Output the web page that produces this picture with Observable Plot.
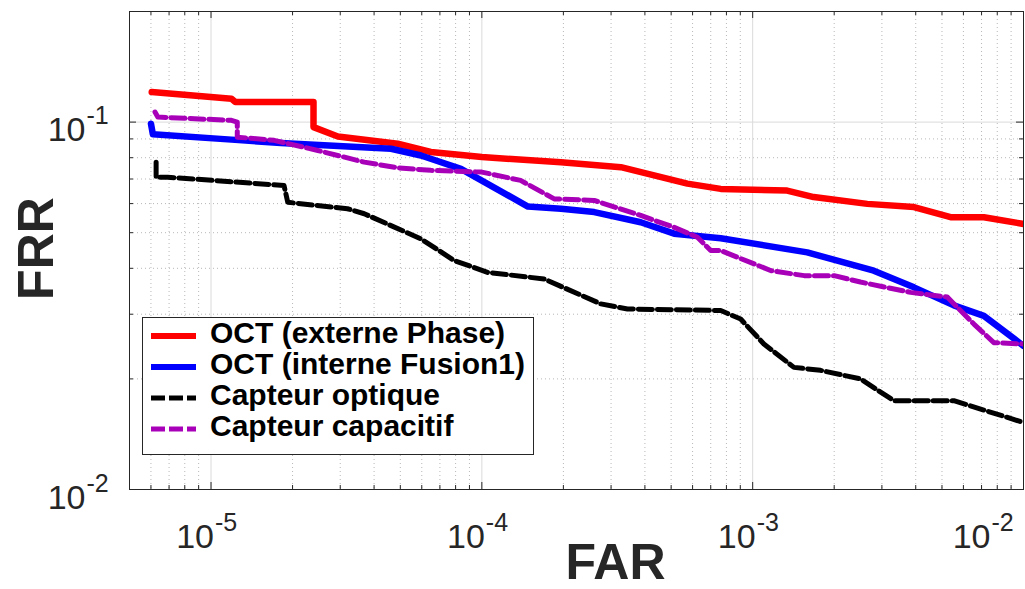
<!DOCTYPE html>
<html>
<head>
<meta charset="utf-8">
<script src="https://cdn.jsdelivr.net/npm/d3@7"></script>
<script src="https://cdn.jsdelivr.net/npm/@observablehq/plot@0.6"></script>
<style>
  html, body { margin: 0; padding: 0; background: #fff; }
  #wrap { position: relative; width: 1025px; height: 589px; overflow: hidden; }
  #legend { position: absolute; left: 142px; top: 317px; }
</style>
</head>
<body>
<div id="wrap"></div>
<script>
// ---- Data ----
const seriesNames = ["OCT (externe Phase)", "OCT (interne Fusion1)", "Capteur optique", "Capteur capacitif"];
const seriesColors = ["#ff0000", "#0000ff", "#000000", "#a800b8"];

const farExterne = [6.04e-6, 1.19e-5, 1.23e-5, 2.39e-5, 2.39e-5, 2.94e-5, 4.89e-5, 6.48e-5, 1.0e-4, 1.96e-4, 3.26e-4, 5.74e-4, 7.62e-4, 1.34e-3, 1.68e-3, 2.65e-3, 3.94e-3, 5.38e-3, 7.14e-3, 1.0e-2];
const frrExterne = [0.1207, 0.1158, 0.1134, 0.1134, 0.0969, 0.0914, 0.0873, 0.0829, 0.0803, 0.0778, 0.0754, 0.0680, 0.0658, 0.0651, 0.0625, 0.0599, 0.0587, 0.0551, 0.0551, 0.0528];

const farInterne = [6.0e-6, 6.1e-6, 1.19e-5, 1.81e-5, 4.62e-5, 5.96e-5, 8.37e-5, 1.48e-4, 1.96e-4, 2.60e-4, 3.86e-4, 5.13e-4, 7.62e-4, 1.59e-3, 2.80e-3, 3.94e-3, 5.53e-3, 7.14e-3, 1.0e-2];
const frrInterne = [0.0990, 0.0926, 0.0896, 0.0877, 0.0846, 0.0811, 0.0746, 0.0589, 0.0581, 0.0569, 0.0534, 0.0497, 0.0483, 0.0442, 0.0394, 0.0355, 0.0317, 0.0297, 0.0246];

const farOptique = [6.27e-6, 6.27e-6, 6.92e-6, 1.86e-5, 1.92e-5, 3.19e-5, 3.68e-5, 5.96e-5, 7.9e-5, 1.05e-4, 1.70e-4, 2.75e-4, 3.45e-4, 7.62e-4, 9.03e-4, 1.10e-3, 1.42e-3, 1.78e-3, 2.50e-3, 3.32e-3, 5.53e-3, 1.0e-2];
const frrOptique = [0.0778, 0.0708, 0.0708, 0.0672, 0.0605, 0.0581, 0.0563, 0.0481, 0.0420, 0.0390, 0.0374, 0.0320, 0.0310, 0.0307, 0.0291, 0.0249, 0.0215, 0.0211, 0.0200, 0.01745, 0.01745, 0.01522];

const farCapacitif = [6.21e-6, 6.36e-6, 1.19e-5, 1.25e-5, 1.25e-5, 1.71e-5, 2.48e-5, 3.68e-5, 4.89e-5, 6.48e-5, 1.0e-4, 1.39e-4, 1.85e-4, 2.60e-4, 3.86e-4, 5.13e-4, 6.25e-4, 7.0e-4, 7.62e-4, 1.17e-3, 1.55e-3, 2.0e-3, 2.50e-3, 3.83e-3, 5.23e-3, 6.56e-3, 7.77e-3, 1.0e-2];
const frrCapacitif = [0.1065, 0.1032, 0.1011, 0.1000, 0.0910, 0.0892, 0.0837, 0.0778, 0.0751, 0.0739, 0.0731, 0.0694, 0.0618, 0.0612, 0.0557, 0.0517, 0.0486, 0.0447, 0.0447, 0.0394, 0.0382, 0.0382, 0.0367, 0.0344, 0.0334, 0.0282, 0.0251, 0.0249];

const xDomain = [5e-6, 1e-2];
const yDomain = [0.01, 0.2];
const xMajorTicks = [1e-5, 1e-4, 1e-3, 1e-2];
const yMajorTicks = [0.01, 0.1];
const xMinorTicks = [5e-6, 6e-6, 7e-6, 8e-6, 9e-6, 2e-5, 3e-5, 4e-5, 5e-5, 6e-5, 7e-5, 8e-5, 9e-5, 2e-4, 3e-4, 4e-4, 5e-4, 6e-4, 7e-4, 8e-4, 9e-4, 2e-3, 3e-3, 4e-3, 5e-3, 6e-3, 7e-3, 8e-3, 9e-3];
const yMinorTicks = [0.02, 0.03, 0.04, 0.05, 0.06, 0.07, 0.08, 0.09, 0.2];
const xTickExponents = ["-5", "-4", "-3", "-2"];
const yTickExponents = ["-2", "-1"];
const xLabel = "FAR";
const yLabel = "FRR";

// ---- Build tables ----
const zip = (fa, fr, name) => fa.map((f, i) => ({far: f, frr: fr[i], name}));
const dExt = zip(farExterne, frrExterne, seriesNames[0]);
const dInt = zip(farInterne, frrInterne, seriesNames[1]);
const dOpt = zip(farOptique, frrOptique, seriesNames[2]);
const dCap = zip(farCapacitif, frrCapacitif, seriesNames[3]);

const W = 1025, H = 589;
const mL = 129, mR = 2, mT = 11, mB = 100;
const plotW = W - mL - mR, plotH = H - mT - mB;
const majLen = 7, minLen = 4;
const axisColor = "#262626";

const xTicksMain = xMajorTicks.slice(0, 3).map((v, i) => ({v, e: xTickExponents[i]}));
const xTicksLast = [{v: xMajorTicks[3], e: xTickExponents[3]}];
const yTicks = yMajorTicks.map((v, i) => ({v, e: yTickExponents[i]}));

const tickFont = 34, expFont = 25;

const chart = Plot.plot({
  width: W, height: H,
  marginLeft: mL, marginRight: mR, marginTop: mT, marginBottom: mB,
  x: {type: "log", domain: xDomain, axis: null},
  y: {type: "log", domain: yDomain, axis: null},
  style: {fontFamily: "'Liberation Sans', Arial, Helvetica, sans-serif", background: "#fff", overflow: "visible"},
  marks: [
    // minor grid (dotted)
    Plot.ruleX(xMinorTicks, {x: d => d, stroke: "#b8b8b8", strokeWidth: 1, strokeDasharray: "1,3"}),
    Plot.ruleY(yMinorTicks, {y: d => d, stroke: "#b8b8b8", strokeWidth: 1, strokeDasharray: "1,3"}),
    // major grid
    Plot.ruleX(xMajorTicks, {x: d => d, stroke: "#dadada", strokeWidth: 1}),
    Plot.ruleY(yMajorTicks, {y: d => d, stroke: "#dadada", strokeWidth: 1}),
    // curves
    Plot.line(dExt, {x: "far", y: "frr", stroke: seriesColors[0], strokeWidth: 6.5, strokeLinejoin: "round", clip: true}),
    Plot.line(dInt, {x: "far", y: "frr", stroke: seriesColors[1], strokeWidth: 6.5, strokeLinejoin: "round", clip: true}),
    Plot.line(dOpt, {x: "far", y: "frr", stroke: seriesColors[2], strokeWidth: 5, strokeDasharray: "14,5", strokeLinejoin: "round", clip: true}),
    Plot.line(dCap, {x: "far", y: "frr", stroke: seriesColors[3], strokeWidth: 5, strokeDasharray: "14,5", strokeLinejoin: "round", clip: true}),
    // inward ticks: bottom, top, left, right
    Plot.ruleX(xMajorTicks, {x: d => d, insetTop: plotH - majLen, stroke: axisColor}),
    Plot.ruleX(xMinorTicks, {x: d => d, insetTop: plotH - minLen, stroke: axisColor}),
    Plot.ruleX(xMajorTicks, {x: d => d, insetBottom: plotH - majLen, stroke: axisColor}),
    Plot.ruleX(xMinorTicks, {x: d => d, insetBottom: plotH - minLen, stroke: axisColor}),
    Plot.ruleY(yMajorTicks, {y: d => d, insetRight: plotW - majLen, stroke: axisColor}),
    Plot.ruleY(yMinorTicks, {y: d => d, insetRight: plotW - minLen, stroke: axisColor}),
    Plot.ruleY(yMajorTicks, {y: d => d, insetLeft: plotW - majLen, stroke: axisColor}),
    Plot.ruleY(yMinorTicks, {y: d => d, insetLeft: plotW - minLen, stroke: axisColor}),
    Plot.frame({stroke: axisColor, strokeWidth: 1}),
    // x tick labels
    Plot.text(xTicksMain, {x: "v", frameAnchor: "bottom", text: () => "10", textAnchor: "end", lineAnchor: "bottom", dx: 3, dy: 58, fontSize: tickFont, fill: axisColor}),
    Plot.text(xTicksMain, {x: "v", frameAnchor: "bottom", text: "e", textAnchor: "start", lineAnchor: "bottom", dx: 4, dy: 41, fontSize: expFont, fill: axisColor}),
    Plot.text(xTicksLast, {x: "v", frameAnchor: "bottom", text: () => "10", textAnchor: "end", lineAnchor: "bottom", dx: -33, dy: 58, fontSize: tickFont, fill: axisColor}),
    Plot.text(xTicksLast, {x: "v", frameAnchor: "bottom", text: "e", textAnchor: "start", lineAnchor: "bottom", dx: -32, dy: 41, fontSize: expFont, fill: axisColor}),
    // y tick labels
    Plot.text(yTicks, {y: "v", frameAnchor: "left", text: () => "10", textAnchor: "end", lineAnchor: "bottom", dx: -44, dy: 19, fontSize: tickFont, fill: axisColor}),
    Plot.text(yTicks, {y: "v", frameAnchor: "left", text: "e", textAnchor: "start", lineAnchor: "bottom", dx: -43, dy: 2, fontSize: expFont, fill: axisColor}),
    // axis titles
    Plot.text([xLabel], {text: d => d, frameAnchor: "bottom", textAnchor: "middle", lineAnchor: "bottom", dx: 39, dy: 89, fontSize: 50, fontWeight: "bold", fill: axisColor}),
    Plot.text([yLabel], {text: d => d, frameAnchor: "left", rotate: -90, textAnchor: "middle", lineAnchor: "bottom", dx: -77, dy: -2, fontSize: 50, fontWeight: "bold", fill: axisColor})
  ]
});
document.getElementById("wrap").appendChild(chart);

// ---- Legend (overlay inside the axes) ----
const legW = 392, legH = 138;
const rowBase = [26, 57, 88, 119];
const dashes = [null, null, "14,4", "14,4"];
const widths = [6, 6, 5, 5];
const svgNS = "http://www.w3.org/2000/svg";
const leg = document.createElementNS(svgNS, "svg");
leg.setAttribute("id", "legend");
leg.setAttribute("width", legW);
leg.setAttribute("height", legH);
leg.style.position = "absolute";
leg.style.left = "142px";
leg.style.top = "317px";
const box = document.createElementNS(svgNS, "rect");
box.setAttribute("x", 0.5); box.setAttribute("y", 0.5);
box.setAttribute("width", legW - 1); box.setAttribute("height", legH - 1);
box.setAttribute("fill", "#fff"); box.setAttribute("stroke", axisColor); box.setAttribute("stroke-width", 1);
leg.appendChild(box);
seriesNames.forEach((name, i) => {
  const ln = document.createElementNS(svgNS, "line");
  ln.setAttribute("x1", 9); ln.setAttribute("x2", 54);
  ln.setAttribute("y1", rowBase[i] - 7); ln.setAttribute("y2", rowBase[i] - 7);
  ln.setAttribute("stroke", seriesColors[i]);
  ln.setAttribute("stroke-width", widths[i]);
  if (dashes[i]) ln.setAttribute("stroke-dasharray", dashes[i]);
  leg.appendChild(ln);
  const t = document.createElementNS(svgNS, "text");
  t.setAttribute("x", 68); t.setAttribute("y", rowBase[i]);
  t.setAttribute("font-family", "'Liberation Sans', Arial, Helvetica, sans-serif");
  t.setAttribute("font-weight", "bold");
  t.setAttribute("font-size", 30);
  t.setAttribute("fill", "#000");
  t.textContent = name;
  leg.appendChild(t);
});
document.getElementById("wrap").appendChild(leg);
</script>
</body>
</html>
